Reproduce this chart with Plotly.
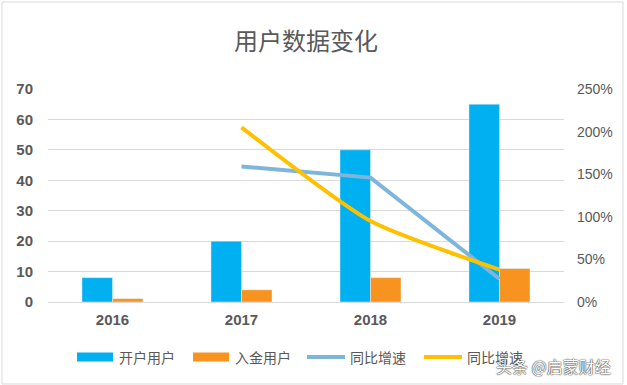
import plotly.graph_objects as go

years = ["2016", "2017", "2018", "2019"]
open_users = [8, 20, 50, 65]
deposit_users = [1.1, 4, 8, 11]
growth_open = [None, 1.59, 1.46, 0.27]
growth_deposit = [None, 2.05, 0.95, 0.38]

title_text = "用户数据变化"
legend_names = ["开户用户", "入金用户", "同比增速", "同比增速"]
watermark = "头条 @启蒙财经"

C_BLUE = "#00B0F0"
C_ORANGE = "#F7931E"
C_LBLUE = "#7DB6DA"
C_YELLOW = "#FFC000"
GRAY = "#595959"

W, H = 627, 385
ML, MR, MT, MB = 48, 63, 89, 83
PW = W - ML - MR
PH = H - MT - MB

def px_x(x):
    return (x - ML) / PW

def px_y(y):
    return (H - MB - y) / PH

fig = go.Figure()
fig.add_trace(go.Bar(x=years, y=open_users, name=legend_names[0], marker_color=C_BLUE, showlegend=False))
fig.add_trace(go.Bar(x=years, y=deposit_users, name=legend_names[1], marker_color=C_ORANGE, showlegend=False))
fig.add_trace(go.Scatter(x=years, y=growth_open, name=legend_names[2], mode="lines",
                         line=dict(color=C_LBLUE, width=4), yaxis="y2", showlegend=False))
fig.add_trace(go.Scatter(x=years, y=growth_deposit, name=legend_names[3], mode="lines",
                         line=dict(color=C_YELLOW, width=4, shape="spline", smoothing=0.6),
                         yaxis="y2", showlegend=False))

shapes = []
annotations = []
# border
shapes.append(dict(type="rect", xref="paper", yref="paper",
                   x0=px_x(2), x1=px_x(623), y0=px_y(384), y1=px_y(2),
                   line=dict(color="#D9D9D9", width=1), fillcolor="rgba(0,0,0,0)", layer="below"))

# custom legend
leg_y = 357
items = [
    (77, 113, "rect", C_BLUE, 117),
    (193, 229, "rect", C_ORANGE, 233),
    (307, 345, "line", C_LBLUE, 348),
    (424, 462, "line", C_YELLOW, 465),
]
for (x0, x1, kind, col, tx), name in zip(items, legend_names):
    if kind == "rect":
        shapes.append(dict(type="rect", xref="paper", yref="paper",
                           x0=px_x(x0), x1=px_x(x1), y0=px_y(leg_y + 4.5), y1=px_y(leg_y - 4.5),
                           line=dict(width=0), fillcolor=col))
    else:
        shapes.append(dict(type="line", xref="paper", yref="paper",
                           x0=px_x(x0), x1=px_x(x1), y0=px_y(leg_y), y1=px_y(leg_y),
                           line=dict(width=4, color=col)))
    annotations.append(dict(text=name, xref="paper", yref="paper", x=px_x(tx), y=px_y(leg_y),
                            xanchor="left", yanchor="middle", showarrow=False,
                            font=dict(family="Noto Sans CJK SC", size=14, color=GRAY)))

annotations.append(dict(text=watermark, xref="paper", yref="paper", x=px_x(613), y=px_y(366),
                        xanchor="right", yanchor="middle", showarrow=False,
                        font=dict(family="Noto Sans CJK SC", size=16, color="white",
                                  shadow="0px 0px 1.5px #222, 0px 0px 1px #222")))

fig.update_layout(
    width=W, height=H,
    margin=dict(l=ML, r=MR, t=MT, b=MB),
    paper_bgcolor="white", plot_bgcolor="white",
    barmode="group", bargap=0.527, bargroupgap=0,
    title=dict(text=title_text, x=0.5, xref="paper", xanchor="center",
               y=(H - 42) / H, yanchor="middle",
               font=dict(family="Noto Sans CJK SC", size=24, color=GRAY)),
    xaxis=dict(showgrid=False, showline=True, linecolor="#D9D9D9", linewidth=1,
               ticks="", ticklabelstandoff=4,
               tickfont=dict(family="Liberation Sans", size=15, color=GRAY, weight="bold")),
    yaxis=dict(range=[0, 70], dtick=10, showgrid=True, gridcolor="#D9D9D9", gridwidth=1,
               zeroline=False, ticks="", ticklabelstandoff=14,
               tickfont=dict(family="Liberation Sans", size=15, color=GRAY, weight="bold")),
    yaxis2=dict(range=[0, 2.5], dtick=0.5, tickformat=".0%", overlaying="y", side="right",
                showgrid=False, zeroline=False, ticks="", ticklabelstandoff=12,
                tickfont=dict(family="Liberation Sans", size=14, color=GRAY)),
    shapes=shapes,
    annotations=annotations,
    showlegend=False,
)

fig.write_html("out.html", config={"displayModeBar": False},
               post_script="document.body.style.margin='0';")
